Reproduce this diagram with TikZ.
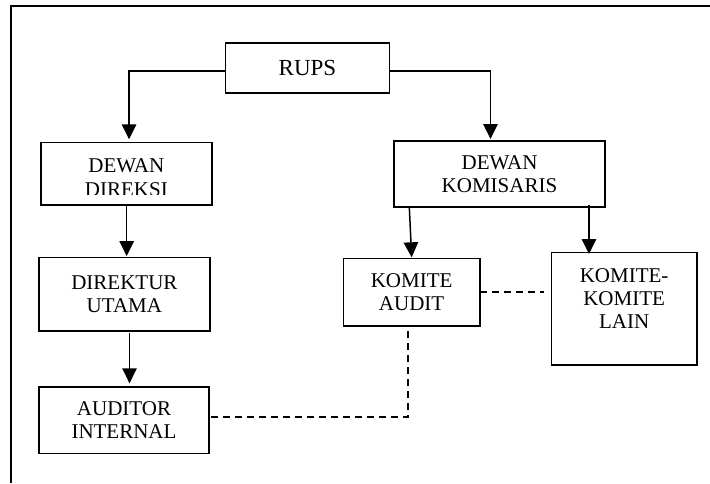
\documentclass[tikz,border=0pt]{standalone}
\usepackage{fontspec}
\setmainfont{Liberation Serif}
\usetikzlibrary{arrows.meta,calc}
\tikzset{
  box/.style={draw, line width=1.6pt, inner sep=0pt, outer sep=0pt, align=center,
    font=\fontsize{21}{23.3}\selectfont},
  conn/.style={line width=1.5pt},
  arr/.style={conn, -{Triangle[length=15pt,width=14.5pt]}},
  dsh/.style={line width=1.8pt, dash pattern=on 7pt off 5pt},
}
\begin{document}
\begin{tikzpicture}[x=1pt,y=-1pt]
\useasboundingbox (0,0) rectangle (710,483);
% outer frame
\draw[line width=1.6pt] (710,5.7) -- (11,5.7) -- (11,483);

% boxes
\node[box, minimum width=164pt, minimum height=50pt, font=\fontsize{23}{25}\selectfont] (rups) at (307.5,67.7) {RUPS};
\node[box, minimum width=170.7pt, minimum height=62.7pt] (dd) at (126.35,173.65) {};
\begin{scope}
  \clip (41,142.3) rectangle (211.7,194);
  \node[align=center, inner sep=0pt, font=\fontsize{21}{24.3}\selectfont] (ddt) at (126.35,177.6) {DEWAN\\DIREKSI};
\end{scope}
\node[box, minimum width=211pt, minimum height=65.7pt] (dk) at (499.5,173.85) {DEWAN\\KOMISARIS};
\node[box, minimum width=171.3pt, minimum height=73.4pt] (du) at (124.35,294) {DIREKTUR\\UTAMA};
\node[box, minimum width=136.7pt, minimum height=67.7pt] (ka) at (411.65,292.15) {KOMITE\\AUDIT};
\node[box, minimum width=145.2pt, minimum height=112.7pt] (kl) at (624.1,308.65) {KOMITE-\\KOMITE\\LAIN\\[-3pt]\mbox{}};
\node[box, minimum width=170pt, minimum height=66.6pt] (ai) at (124,420) {AUDITOR\\INTERNAL};

% connectors
\draw[arr] ($(rups.west)+(0,3.3)$) -| ($(dd.north)+(2.7,-3)$);
\draw[arr] ($(rups.east)+(0,3.3)$) -| ($(dk.north)+(-9,-2)$);
\draw[arr] ($(dd.south)+(0.35,0)$) -- ($(du.north)+(2.35,-1.3)$);
\draw[arr] ($(du.south)+(5.15,2.3)$) -- ($(ai.north)+(5.5,-3.4)$);
\draw[arr] ($(dk.south west)+(15.3,0)$) -- ($(ka.north)+(0,-1)$);
\draw[arr] ($(dk.south)+(89.5,-1.7)$) -- ($(kl.north)+(-35.1,1.7)$);

% dashed links
\draw[dsh, shorten >=8pt] (ka.east) -- (ka.east -| kl.west);
\draw[dsh] ($(ai.east)+(1.5,-3.3)$) -| ($(ka.south)+(-4,0)$);
\end{tikzpicture}
\end{document}
